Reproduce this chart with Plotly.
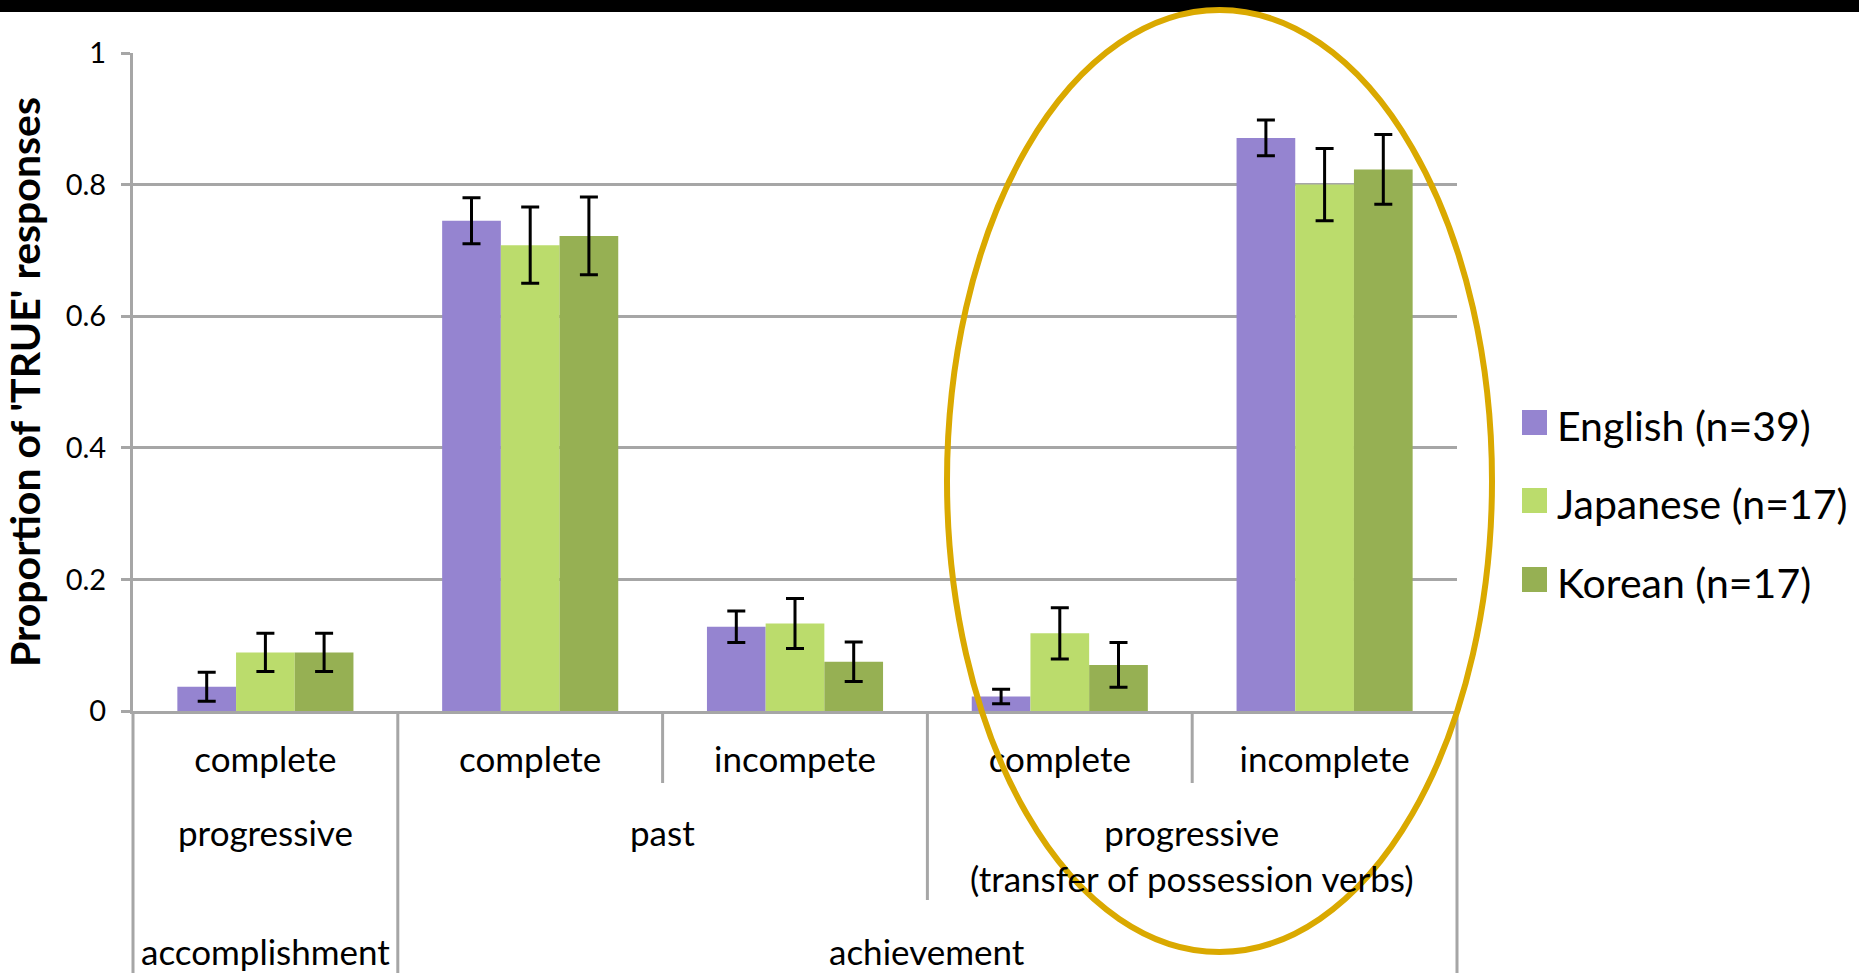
import plotly.graph_objects as go

# Condition labels, innermost level first
aspect_labels = ["complete", "complete", "incompete", "complete", "incomplete"]
tense_groups = ["progressive", "past", "progressive<br>(transfer of possession verbs)"]
tense_spans = [(0, 0), (1, 2), (3, 4)]
verb_groups = ["accomplishment", "achievement"]
verb_spans = [(0, 0), (1, 4)]

# Proportion of TRUE responses and error-bar half-lengths per language group
series_names = ["English (n=39)", "Japanese (n=17)", "Korean (n=17)"]
english = [0.037, 0.745, 0.128, 0.022, 0.871]
english_err = [0.022, 0.035, 0.024, 0.011, 0.027]
japanese = [0.089, 0.708, 0.133, 0.118, 0.800]
japanese_err = [0.029, 0.058, 0.038, 0.039, 0.055]
korean = [0.089, 0.722, 0.075, 0.070, 0.823]
korean_err = [0.029, 0.059, 0.030, 0.034, 0.053]

y_ticks = [0, 0.2, 0.4, 0.6, 0.8, 1]
y_ticktext = ["0", "0.2", "0.4", "0.6", "0.8", "1"]

colors = ["#9584D0", "#BBDC6C", "#96B053"]
FONT = "Lato, Carlito, Calibri, sans-serif"
GRID = "#A6A6A6"

W, H = 1859, 973
L, R, T, B = 133, 402, 53, 262
plot_w, plot_h = W - L - R, H - T - B

xpos = list(range(len(aspect_labels)))
n_cat = len(aspect_labels)


def px_to_paper_x(px):
    return (px - L) / plot_w


def px_to_paper_y(py):
    return (H - B - py) / plot_h


def boundary_paper(b):
    # category boundary b (between b-1 and b) in paper units
    return b / n_cat


fig = go.Figure()
for name, vals, errs, col in zip(series_names,
                                 [english, japanese, korean],
                                 [english_err, japanese_err, korean_err],
                                 colors):
    fig.add_trace(go.Bar(
        x=xpos, y=vals, name=name, marker=dict(color=col, line=dict(width=0)),
        error_y=dict(type="data", array=errs, visible=True,
                     color="black", thickness=3, width=9),
        showlegend=False,
    ))

shapes = []
# black strip along the top edge
shapes.append(dict(type="rect", xref="paper", yref="paper",
                   x0=px_to_paper_x(0), x1=px_to_paper_x(W),
                   y0=px_to_paper_y(12), y1=px_to_paper_y(-2),
                   fillcolor="black", line=dict(width=0), layer="above"))

# divider lines of the category table under the axis
row1_bottom = px_to_paper_y(783)
row2_bottom = px_to_paper_y(900)
table_bottom = px_to_paper_y(H + 5)
divider_depth = {0: table_bottom, 1: table_bottom, 2: row1_bottom,
                 3: row2_bottom, 4: row1_bottom, 5: table_bottom}
for b, y_end in divider_depth.items():
    xp = boundary_paper(b)
    shapes.append(dict(type="line", xref="paper", yref="paper",
                       x0=xp, x1=xp, y0=0, y1=y_end,
                       line=dict(color=GRID, width=3), layer="below"))

# highlight ellipse around the transfer-of-possession conditions
shapes.append(dict(type="circle", xref="paper", yref="paper",
                   x0=px_to_paper_x(947), x1=px_to_paper_x(1492),
                   y0=px_to_paper_y(952), y1=px_to_paper_y(10),
                   line=dict(color="#DAA900", width=6), layer="above"))

# legend swatches
legend_rows = [422.5, 500.5, 579.5]
for yc, col in zip(legend_rows, colors):
    shapes.append(dict(type="rect", xref="paper", yref="paper",
                       x0=px_to_paper_x(1522), x1=px_to_paper_x(1547),
                       y0=px_to_paper_y(yc + 12.5), y1=px_to_paper_y(yc - 12.5),
                       fillcolor=col, line=dict(width=0)))

annotations = []
for label, (a, b) in zip(tense_groups, tense_spans):
    annotations.append(dict(text=label, x=(a + b) / 2, xref="x",
                            y=px_to_paper_y(855 if "<br>" in label else 832),
                            yref="paper", showarrow=False,
                            xanchor="center", yanchor="middle",
                            font=dict(family=FONT, size=35, color="black")))
for label, (a, b) in zip(verb_groups, verb_spans):
    annotations.append(dict(text=label, x=(a + b) / 2, xref="x",
                            y=px_to_paper_y(951), yref="paper", showarrow=False,
                            xanchor="center", yanchor="middle",
                            font=dict(family=FONT, size=35, color="black")))
for yc, name in zip(legend_rows, series_names):
    annotations.append(dict(text=name, x=px_to_paper_x(1555), xref="paper",
                            y=px_to_paper_y(yc + 3), yref="paper", showarrow=False,
                            xanchor="left", yanchor="middle",
                            font=dict(family=FONT, size=41, color="black")))

fig.update_layout(
    width=W, height=H,
    margin=dict(l=L, r=R, t=T, b=B, pad=0),
    paper_bgcolor="white", plot_bgcolor="white",
    barmode="group", bargap=0.335, bargroupgap=0,
    showlegend=False,
    shapes=shapes, annotations=annotations,
    xaxis=dict(range=[-0.5, n_cat - 0.5], tickvals=xpos, ticktext=aspect_labels,
               ticks="", showgrid=False, zeroline=False,
               showline=True, linecolor=GRID, linewidth=3,
               ticklabelstandoff=16,
               tickfont=dict(family=FONT, size=35, color="black")),
    yaxis=dict(range=[0, 1], tickvals=y_ticks, ticktext=y_ticktext,
               showgrid=True, gridcolor=GRID, gridwidth=3, zeroline=False,
               showline=True, linecolor=GRID, linewidth=3,
               ticks="outside", ticklen=9, tickwidth=3, tickcolor=GRID,
               ticklabelstandoff=9,
               tickfont=dict(family=FONT, size=29, color="black"),
               title=dict(text="<b>Proportion of 'TRUE' responses</b>",
                          standoff=14,
                          font=dict(family=FONT, size=41, color="black"))),
)

fig.write_html("out.html")
